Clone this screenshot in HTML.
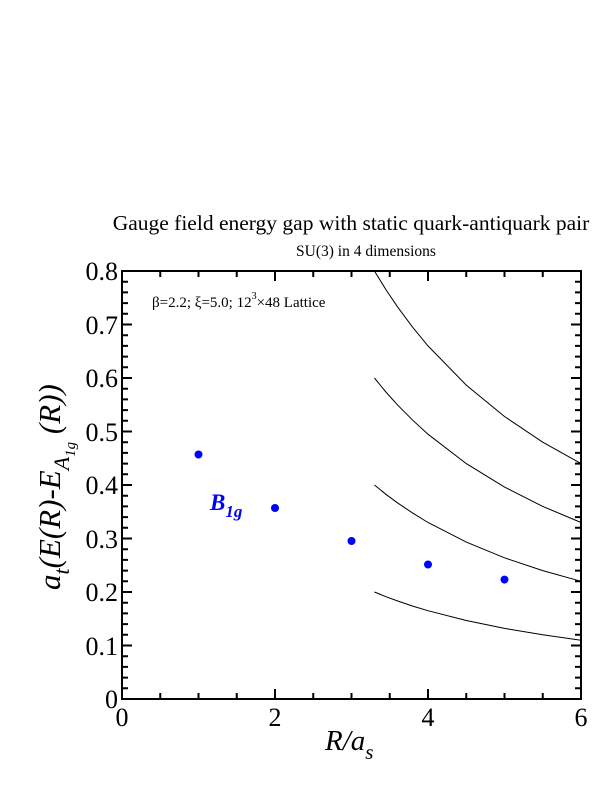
<!DOCTYPE html>
<html><head><meta charset="utf-8"><style>body{margin:0;background:#fff}svg{display:block}</style></head><body>
<svg width="612" height="792" xmlns="http://www.w3.org/2000/svg" font-family="Liberation Serif, serif">
<rect width="612" height="792" fill="#fff"/>
<text x="351" y="230" font-size="21.5" text-anchor="middle">Gauge field energy gap with static quark-antiquark pair</text>
<text x="366" y="256" font-size="15.5" text-anchor="middle">SU(3) in 4 dimensions</text>
<g stroke="#000" stroke-width="2" fill="none">
<rect x="122" y="271" width="459" height="428"/>
</g>
<g stroke="#000" stroke-width="2">
<path d="M160.25 699v-6M198.5 699v-6M236.75 699v-6M275 699v-10M313.25 699v-6M351.5 699v-6M389.75 699v-6M428 699v-10M466.25 699v-6M504.5 699v-6M542.75 699v-6
M160.25 271v6M198.5 271v6M236.75 271v6M275 271v10M313.25 271v6M351.5 271v6M389.75 271v6M428 271v10M466.25 271v6M504.5 271v6M542.75 271v6"/>
<path d="
M122 688.3h6M122 677.6h6M122 666.9h6M122 656.2h6M122 645.5h10M122 634.8h6M122 624.1h6M122 613.4h6M122 602.7h6M122 592h10
M122 581.3h6M122 570.6h6M122 559.9h6M122 549.2h6M122 538.5h10M122 527.8h6M122 517.1h6M122 506.4h6M122 495.7h6M122 485h10
M122 474.3h6M122 463.6h6M122 452.9h6M122 442.2h6M122 431.5h10M122 420.8h6M122 410.1h6M122 399.4h6M122 388.7h6M122 378h10
M122 367.3h6M122 356.6h6M122 345.9h6M122 335.2h6M122 324.5h10M122 313.8h6M122 303.1h6M122 292.4h6M122 281.7h6
M581 688.3h-6M581 677.6h-6M581 666.9h-6M581 656.2h-6M581 645.5h-10M581 634.8h-6M581 624.1h-6M581 613.4h-6M581 602.7h-6M581 592h-10
M581 581.3h-6M581 570.6h-6M581 559.9h-6M581 549.2h-6M581 538.5h-10M581 527.8h-6M581 517.1h-6M581 506.4h-6M581 495.7h-6M581 485h-10
M581 474.3h-6M581 463.6h-6M581 452.9h-6M581 442.2h-6M581 431.5h-10M581 420.8h-6M581 410.1h-6M581 399.4h-6M581 388.7h-6M581 378h-10
M581 367.3h-6M581 356.6h-6M581 345.9h-6M581 335.2h-6M581 324.5h-10M581 313.8h-6M581 303.1h-6M581 292.4h-6M581 281.7h-6"/>
</g>
<g font-size="26" text-anchor="end">
<text x="118" y="708">0</text><text x="118" y="655">0.1</text><text x="118" y="601">0.2</text><text x="118" y="548">0.3</text><text x="118" y="494">0.4</text><text x="118" y="441">0.5</text><text x="118" y="387">0.6</text><text x="118" y="334">0.7</text><text x="118" y="280">0.8</text>
</g>
<g font-size="26" text-anchor="middle">
<text x="122" y="726">0</text><text x="275" y="726">2</text><text x="428" y="726">4</text><text x="581" y="726">6</text>
</g>
<text x="325" y="750" font-size="29" font-style="italic">R/a<tspan font-size="21" dy="9">s</tspan></text>
<text transform="translate(60,590) rotate(-90)" font-size="31" font-style="italic">a<tspan font-size="22" dy="9">t</tspan><tspan dy="-9">(E(R)-E</tspan><tspan font-size="22" dy="9">A</tspan><tspan font-size="15" dy="6">1g</tspan><tspan dy="-15"> (R))</tspan></text>
<text x="152" y="307" font-size="15">β=2.2;  ξ=5.0; 12<tspan font-size="10" dy="-8">3</tspan><tspan dy="8">×48 Lattice</tspan></text>
<text x="210" y="510" font-size="23" font-weight="bold" font-style="italic" fill="#0000ff">B<tspan font-size="17" dy="7">1g</tspan></text>
<g fill="#0000ff">
<circle cx="198.5" cy="454.5" r="4"/><circle cx="275" cy="508" r="4"/><circle cx="351.5" cy="541" r="4"/><circle cx="428" cy="564.5" r="4"/><circle cx="504.5" cy="579.6" r="4"/>
</g>
<g fill="none" stroke="#000" stroke-width="1">
<polyline points="374.45,592 385.9,596.7 397.4,600.9 412.7,606.1 428,610.7 466.25,620.5 504.5,628.4 542.75,634.8 581,640.2"/>
<polyline points="374.45,485 385.9,494.3 397.4,502.8 412.7,513.1 428,522.5 466.25,542.1 504.5,557.8 542.75,570.6 581,581.3"/>
<polyline points="374.45,378 385.9,392 397.4,404.8 412.7,420.2 428,434.2 466.25,463.6 504.5,487.1 542.75,506.4 581,522.5"/>
<polyline points="374.45,271 385.9,289.6 397.4,306.7 412.7,327.3 428,345.9 466.25,385.1 504.5,416.5 542.75,442.2 581,463.6"/>
</g>
</svg>
</body></html>
